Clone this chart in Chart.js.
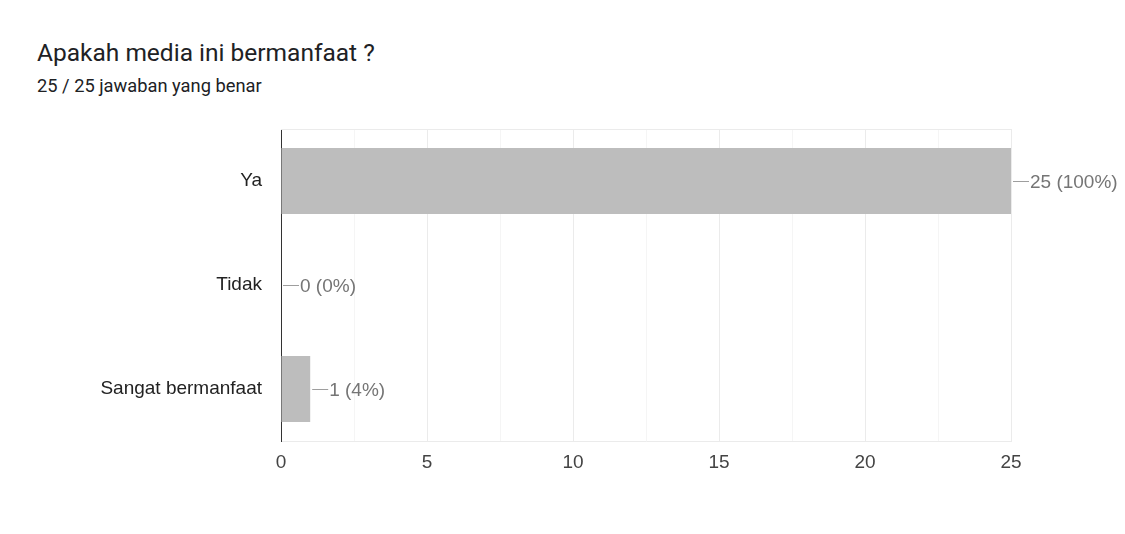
<!DOCTYPE html>
<html>
<head>
<meta charset="utf-8">
<script src="https://cdn.jsdelivr.net/npm/chart.js@4"></script>
<style>
  html, body { margin: 0; padding: 0; background: #fff; }
  #wrap { position: relative; width: 1125px; height: 534px; overflow: hidden; }
  #judul { position: absolute; left: 37px; top: 38px; font: 24.5px Roboto, sans-serif; color: #202124; white-space: nowrap; }
  #subjudul { position: absolute; left: 37px; top: 75px; font: 18.3px Roboto, sans-serif; color: #202124; white-space: nowrap; }
  #grafik { position: absolute; left: 0; top: 0; }
</style>
</head>
<body>
<div id="wrap">
  <div id="judul">Apakah media ini bermanfaat ?</div>
  <div id="subjudul">25 / 25 jawaban yang benar</div>
  <canvas id="grafik" width="1125" height="534"></canvas>
</div>
<script>
// Data jawaban
var kategori = ["Ya", "Tidak", "Sangat bermanfaat"];
var jumlah = [25, 0, 1];
var persen = [100, 0, 4];
var tickX = [0, 5, 10, 15, 20, 25];

var hurufLabel = '"Liberation Sans", Arial, sans-serif';

// Plugin untuk label nilai dengan garis penunjuk
var labelNilai = {
    id: 'labelNilai',
    afterDatasetsDraw: function (chart) {
        var ctx = chart.ctx;
        var meta = chart.getDatasetMeta(0);
        ctx.save();
        // garis tepi atas area grafik
        ctx.strokeStyle = '#ebebeb';
        ctx.lineWidth = 1;
        ctx.beginPath();
        ctx.moveTo(chart.chartArea.left, chart.chartArea.top + 0.5);
        ctx.lineTo(chart.chartArea.right, chart.chartArea.top + 0.5);
        ctx.stroke();

        ctx.font = '19px ' + hurufLabel;
        ctx.textBaseline = 'middle';
        ctx.textAlign = 'left';
        meta.data.forEach(function (bar, i) {
            var x = bar.x + 2;
            var y = Math.round(bar.y) + 0.5;
            ctx.strokeStyle = '#9e9e9e';
            ctx.beginPath();
            ctx.moveTo(x, y);
            ctx.lineTo(x + 16, y);
            ctx.stroke();
            ctx.fillStyle = '#757575';
            ctx.fillText(jumlah[i] + ' (' + persen[i] + '%)', x + 17, y + 1);
        });
        ctx.restore();
    }
};

var ctx = document.getElementById('grafik').getContext('2d');
new Chart(ctx, {
    type: 'bar',
    data: {
        labels: kategori,
        datasets: [{
            data: jumlah,
            backgroundColor: '#bdbdbd',
            borderWidth: 0,
            categoryPercentage: 1,
            barPercentage: 0.635
        }]
    },
    options: {
        indexAxis: 'y',
        responsive: false,
        animation: false,
        events: [],
        layout: { padding: { top: 129, right: 114, bottom: 53, left: 0 } },
        plugins: {
            legend: { display: false },
            tooltip: { enabled: false }
        },
        scales: {
            x: {
                min: 0,
                max: 25,
                afterFit: function (s) { s.height = 40; },
                afterBuildTicks: function (s) {
                    var t = [];
                    for (var v = 0; v <= 25; v += 2.5) t.push({ value: v });
                    s.ticks = t;
                },
                ticks: {
                    autoSkip: false,
                    maxRotation: 0,
                    padding: 10,
                    color: '#444',
                    font: { family: hurufLabel, size: 19 },
                    callback: function (v) { return tickX.indexOf(v) >= 0 ? String(v) : ''; }
                },
                grid: {
                    drawTicks: false,
                    color: function (c) {
                        return c.tick && tickX.indexOf(c.tick.value) >= 0 ? '#ebebeb' : '#f5f5f5';
                    }
                },
                border: { color: '#ebebeb' }
            },
            y: {
                afterFit: function (s) { s.width = 281; },
                ticks: {
                    padding: 19,
                    color: '#222',
                    font: { family: hurufLabel, size: 19 }
                },
                grid: { display: false, drawTicks: false },
                border: { color: '#333', width: 1 }
            }
        }
    },
    plugins: [labelNilai]
});
</script>
</body>
</html>
